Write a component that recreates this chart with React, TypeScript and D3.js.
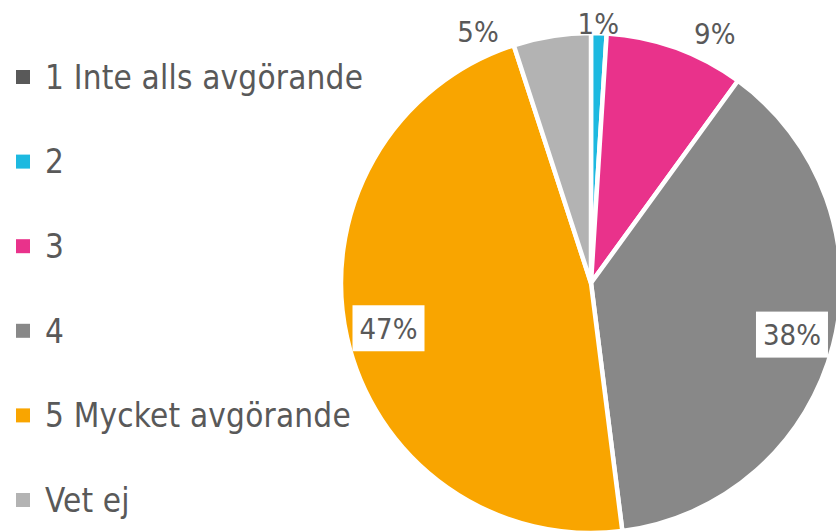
import React from "react";
import * as d3 from "d3";

const categories = ["1 Inte alls avgörande", "2", "3", "4", "5 Mycket avgörande", "Vet ej"];
const values = [0, 1, 9, 38, 47, 5];
const colors = ["#595959", "#1DB9E0", "#E9328B", "#888888", "#F9A500", "#B3B3B3"];
// label placement: "out" = outside above the pie, "in" = inside with white box
const labelModes = ["none", "out", "out", "in", "in", "out"];
// extra offsets for outside labels (dx, dy) from the radial anchor
const outOffsets: Record<number, [number, number]> = {
  1: [-1, 2],
  2: [35, -3],
  5: [-72, 7],
};

const W = 836;
const H = 531;
const cx = 591;
const cy = 283;
const R = 250;

export default function App() {
  const pie = d3.pie<number>().sort(null).value((d) => d)(values);
  const arc = d3.arc<d3.PieArcDatum<number>>().innerRadius(0).outerRadius(R);
  const legendY = d3.scalePoint<string>().domain(categories).range([77, 500]);
  const font = "'DejaVu Sans Condensed', 'DejaVu Sans', sans-serif";
  const textColor = "#595959";

  return (
    <svg
      width={W}
      height={H}
      style={{ position: "absolute", left: 0, top: 0, background: "#fff" }}
    >
      <g transform={`translate(${cx},${cy})`}>
        {pie.map((p, i) => (
          <path key={i} d={arc(p) || ""} fill={colors[i]} stroke="#fff" strokeWidth={4.5} strokeLinejoin="round" />
        ))}
        {pie.map((p, i) => {
          const mode = labelModes[i];
          if (mode === "none") return null;
          const mid = (p.startAngle + p.endAngle) / 2;
          const label = `${values[i]}%`;
          if (mode === "in") {
            const r = R * 0.83;
            const x = Math.sin(mid) * r;
            const y = -Math.cos(mid) * r;
            const bw = 72;
            const bh = 46;
            return (
              <g key={"l" + i} transform={`translate(${x},${y})`}>
                <rect x={-bw / 2} y={-bh / 2} width={bw} height={bh} fill="#fff" />
                <text
                  textAnchor="middle"
                  dy="0.36em"
                  fontFamily={font}
                  fontSize={29}
                  letterSpacing={0}
                  fill={textColor}
                >
                  {label}
                </text>
              </g>
            );
          }
          const r = R + 12;
          const off = outOffsets[i] || [0, 0];
          const x = Math.sin(mid) * r + off[0];
          const y = -Math.cos(mid) * r + off[1];
          return (
            <text
              key={"l" + i}
              x={x}
              y={y}
              textAnchor="middle"
              dy="0.36em"
              fontFamily={font}
              fontSize={29}
              letterSpacing={0}
              fill={textColor}
            >
              {label}
            </text>
          );
        })}
      </g>
      <g>
        {categories.map((c, i) => {
          const y = legendY(c) || 0;
          return (
            <g key={c}>
              <rect x={16} y={y - 7} width={14} height={14} fill={colors[i]} />
              <text
                x={45}
                y={y}
                dy="0.36em"
                fontFamily={font}
                fontSize={33}
                letterSpacing={0.2}
                fill={textColor}
              >
                {c}
              </text>
            </g>
          );
        })}
      </g>
    </svg>
  );
}
